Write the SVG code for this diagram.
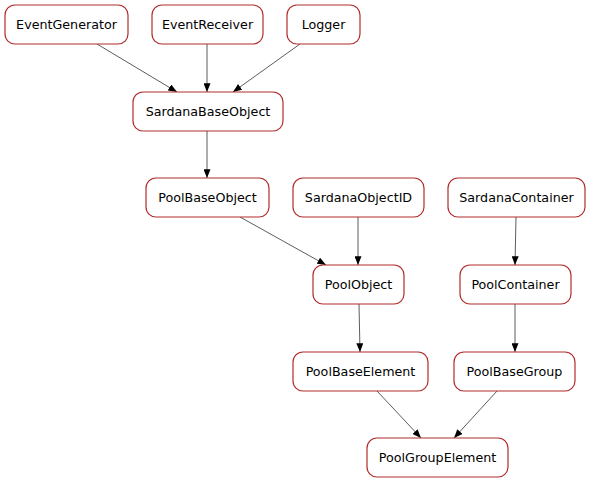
<svg xmlns="http://www.w3.org/2000/svg" width="592" height="483" viewBox="0 0 592 483">
<style>
.n rect{fill:#fff;stroke:#b22c2c;stroke-width:1.2}
.n text{font-family:"DejaVu Sans",sans-serif;font-size:12.7px;fill:#000;text-anchor:middle}
.e line{stroke:#333;stroke-width:0.8;marker-end:url(#ah)}
</style>
<defs>
<marker id="ah" viewBox="0 0 10 8" refX="10" refY="4" markerWidth="9" markerHeight="7" markerUnits="userSpaceOnUse" orient="auto">
<path d="M0,0 L10,4 L0,8 z" fill="#000"/>
</marker>
</defs>
<rect width="592" height="483" fill="#fff"/>
<g id="edges" class="e">
<line x1="97" y1="44" x2="177" y2="92"/>
<line x1="207" y1="44" x2="207" y2="92"/>
<line x1="300" y1="44" x2="233" y2="92"/>
<line x1="207" y1="131" x2="207" y2="178"/>
<line x1="240" y1="217" x2="326" y2="265"/>
<line x1="358" y1="217" x2="358" y2="265"/>
<line x1="516" y1="217" x2="515" y2="265"/>
<line x1="359" y1="304" x2="360" y2="352"/>
<line x1="515" y1="304" x2="515" y2="352"/>
<line x1="377" y1="391" x2="421" y2="438"/>
<line x1="497" y1="391" x2="454" y2="438"/>
</g>
<g id="EventGenerator" class="n"><rect x="5" y="5" width="123" height="39" rx="10"/><text x="66.5" y="28.5">EventGenerator</text></g>
<g id="EventReceiver" class="n"><rect x="152" y="5" width="111" height="39" rx="10"/><text x="207.5" y="28.5">EventReceiver</text></g>
<g id="Logger" class="n"><rect x="287" y="5" width="73" height="39" rx="10"/><text x="323.5" y="28.5">Logger</text></g>
<g id="SardanaBaseObject" class="n"><rect x="133" y="92" width="150" height="39" rx="10"/><text x="208" y="115.5">SardanaBaseObject</text></g>
<g id="PoolBaseObject" class="n"><rect x="146" y="178" width="123" height="39" rx="10"/><text x="207.5" y="201.5">PoolBaseObject</text></g>
<g id="SardanaObjectID" class="n"><rect x="293" y="178" width="131" height="39" rx="10"/><text x="358.5" y="201.5">SardanaObjectID</text></g>
<g id="SardanaContainer" class="n"><rect x="448" y="178" width="137" height="39" rx="10"/><text x="516.5" y="201.5">SardanaContainer</text></g>
<g id="PoolObject" class="n"><rect x="313" y="265" width="91" height="39" rx="10"/><text x="358.5" y="288.5">PoolObject</text></g>
<g id="PoolContainer" class="n"><rect x="460" y="265" width="111" height="39" rx="10"/><text x="515.5" y="288.5">PoolContainer</text></g>
<g id="PoolBaseElement" class="n"><rect x="293" y="352" width="135" height="39" rx="10"/><text x="360.5" y="375.5">PoolBaseElement</text></g>
<g id="PoolBaseGroup" class="n"><rect x="454" y="352" width="121" height="39" rx="10"/><text x="514.5" y="375.5">PoolBaseGroup</text></g>
<g id="PoolGroupElement" class="n"><rect x="367" y="438" width="141" height="39" rx="10"/><text x="437.5" y="461.5">PoolGroupElement</text></g>
</svg>
